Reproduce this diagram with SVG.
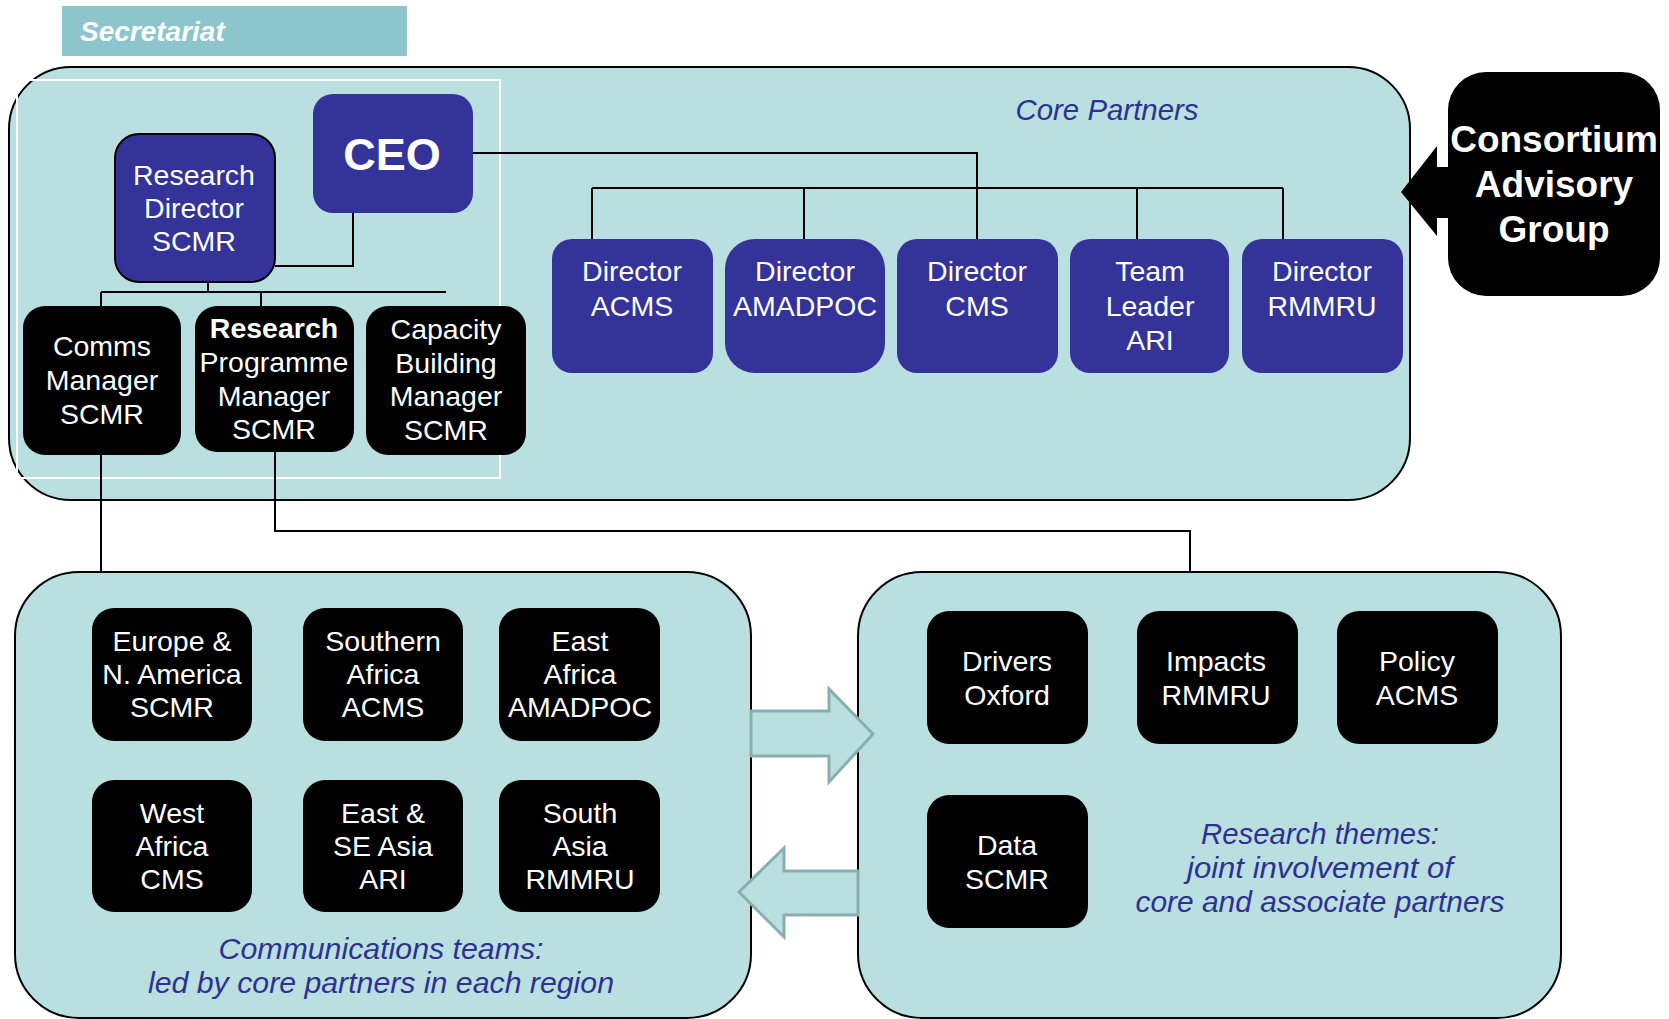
<svg xmlns="http://www.w3.org/2000/svg" width="1669" height="1019" viewBox="0 0 1669 1019">
<defs>
<style>
.panel{fill:#B9DFE1;stroke:#000;stroke-width:2}
.blue{fill:#333399}
.blk{fill:#000}
.wt{fill:#fff;font-family:"Liberation Sans",Arial,sans-serif;font-size:28.5px;text-anchor:middle}
.bd{font-weight:bold}
.it{fill:#2E3192;font-family:"Liberation Sans",Arial,sans-serif;font-size:29px;font-style:italic;text-anchor:middle}
.ln{fill:none;stroke:#000;stroke-width:2}
.arr{fill:#B9DFE1;stroke:#8AAEB0;stroke-width:3}
</style>
</defs>
<rect width="1669" height="1019" fill="#fff"/>
<g id="secretariat-banner">
<rect x="62" y="6" width="345" height="50" fill="#8DC5CD"/>
<text x="80" y="41" style="fill:#fff;font-family:'Liberation Sans',Arial,sans-serif;font-size:28px;font-weight:bold;font-style:italic">Secretariat</text>
</g>
<g id="core-partners">
<rect class="panel" x="9" y="67" width="1401" height="433" rx="62"/>
<rect x="17" y="80" width="483" height="398" fill="none" stroke="#fff" stroke-width="2"/>
<text class="it" x="1107" y="120" textLength="183" lengthAdjust="spacingAndGlyphs">Core Partners</text>
</g>
<g id="comms-panel">
<rect class="panel" x="15" y="572" width="736" height="446" rx="64"/>
<text class="it" x="381" y="959" textLength="325" lengthAdjust="spacingAndGlyphs">Communications teams:</text>
<text class="it" x="381" y="993" textLength="466" lengthAdjust="spacingAndGlyphs">led by core partners in each region</text>
</g>
<g id="research-panel">
<rect class="panel" x="858" y="572" width="703" height="446" rx="64"/>
<text class="it" x="1320" y="844" textLength="238" lengthAdjust="spacingAndGlyphs">Research themes:</text>
<text class="it" x="1320" y="878" textLength="266" lengthAdjust="spacingAndGlyphs">joint involvement of</text>
<text class="it" x="1320" y="912" textLength="369" lengthAdjust="spacingAndGlyphs">core and associate partners</text>
</g>
<g id="connectors">
<polyline class="ln" points="353,213 353,266 275,266"/>
<polyline class="ln" points="208,282 208,292"/>
<line class="ln" x1="101" y1="292" x2="446" y2="292"/>
<line class="ln" x1="101" y1="292" x2="101" y2="306"/>
<line class="ln" x1="261" y1="292" x2="261" y2="306"/>
<polyline class="ln" points="473,153 977,153 977,239"/>
<line class="ln" x1="592" y1="188" x2="1283" y2="188"/>
<line class="ln" x1="592" y1="188" x2="592" y2="252"/>
<line class="ln" x1="804" y1="188" x2="804" y2="239"/>
<line class="ln" x1="1137" y1="188" x2="1137" y2="239"/>
<line class="ln" x1="1283" y1="188" x2="1283" y2="239"/>
<line class="ln" x1="101" y1="455" x2="101" y2="572"/>
<polyline class="ln" points="275,452 275,531 1190,531 1190,572"/>
<path class="arr" d="M751,711 L829,711 L829,689 L873,734 L829,782 L829,756 L751,756 Z"/>
<path class="arr" d="M858,871 L784,871 L784,848 L739,892 L784,937 L784,915 L858,915 Z"/>
<path fill="#000" d="M1449,167 L1437,167 L1437,146 L1401,192 L1437,236 L1437,218 L1449,218 Z"/>
</g>
<g id="ceo">
<rect class="blue" x="313" y="94" width="160" height="119" rx="20"/>
<text class="wt bd" x="392" y="170" style="font-size:45px">CEO</text>
</g>
<g id="research-director">
<rect class="blue" x="115" y="134" width="160" height="148" rx="24" stroke="#000" stroke-width="2"/>
<text class="wt" x="194" y="185">Research</text>
<text class="wt" x="194" y="218">Director</text>
<text class="wt" x="194" y="251">SCMR</text>
</g>
<g id="comms-manager">
<rect class="blk" x="23" y="306" width="158" height="149" rx="22"/>
<text class="wt" x="102" y="356">Comms</text>
<text class="wt" x="102" y="390">Manager</text>
<text class="wt" x="102" y="424">SCMR</text>
</g>
<g id="research-programme-manager">
<rect class="blk" x="195" y="306" width="159" height="146" rx="22"/>
<text class="wt bd" x="274" y="338">Research</text>
<text class="wt" x="274" y="372">Programme</text>
<text class="wt" x="274" y="406">Manager</text>
<text class="wt" x="274" y="439">SCMR</text>
</g>
<g id="capacity-building-manager">
<rect class="blk" x="366" y="306" width="160" height="149" rx="22"/>
<text class="wt" x="446" y="339">Capacity</text>
<text class="wt" x="446" y="373">Building</text>
<text class="wt" x="446" y="406">Manager</text>
<text class="wt" x="446" y="440">SCMR</text>
</g>
<g id="director-acms">
<rect class="blue" x="552" y="239" width="161" height="134" rx="20"/>
<text class="wt" x="632" y="281">Director</text>
<text class="wt" x="632" y="316">ACMS</text>
</g>
<g id="director-amadpoc">
<rect class="blue" x="725" y="239" width="160" height="134" rx="30"/>
<text class="wt" x="805" y="281">Director</text>
<text class="wt" x="805" y="316">AMADPOC</text>
</g>
<g id="director-cms">
<rect class="blue" x="897" y="239" width="161" height="134" rx="20"/>
<text class="wt" x="977" y="281">Director</text>
<text class="wt" x="977" y="316">CMS</text>
</g>
<g id="team-leader-ari">
<rect class="blue" x="1070" y="239" width="159" height="134" rx="20"/>
<text class="wt" x="1150" y="281">Team</text>
<text class="wt" x="1150" y="316">Leader</text>
<text class="wt" x="1150" y="350">ARI</text>
</g>
<g id="director-rmmru">
<rect class="blue" x="1242" y="239" width="161" height="134" rx="20"/>
<text class="wt" x="1322" y="281">Director</text>
<text class="wt" x="1322" y="316">RMMRU</text>
</g>
<g id="consortium-advisory-group">
<rect class="blk" x="1448" y="72" width="212" height="224" rx="38"/>
<text class="wt bd" x="1554" y="152" style="font-size:37px">Consortium</text>
<text class="wt bd" x="1554" y="197" style="font-size:37px">Advisory</text>
<text class="wt bd" x="1554" y="242" style="font-size:37px">Group</text>
</g>
<g id="europe-na">
<rect class="blk" x="92" y="608" width="160" height="133" rx="22"/>
<text class="wt" x="172" y="651">Europe &amp;</text>
<text class="wt" x="172" y="684">N. America</text>
<text class="wt" x="172" y="717">SCMR</text>
</g>
<g id="southern-africa">
<rect class="blk" x="303" y="608" width="160" height="133" rx="22"/>
<text class="wt" x="383" y="651">Southern</text>
<text class="wt" x="383" y="684">Africa</text>
<text class="wt" x="383" y="717">ACMS</text>
</g>
<g id="east-africa">
<rect class="blk" x="499" y="608" width="161" height="133" rx="22"/>
<text class="wt" x="580" y="651">East</text>
<text class="wt" x="580" y="684">Africa</text>
<text class="wt" x="580" y="717">AMADPOC</text>
</g>
<g id="west-africa">
<rect class="blk" x="92" y="780" width="160" height="132" rx="22"/>
<text class="wt" x="172" y="823">West</text>
<text class="wt" x="172" y="856">Africa</text>
<text class="wt" x="172" y="889">CMS</text>
</g>
<g id="east-se-asia">
<rect class="blk" x="303" y="780" width="160" height="132" rx="22"/>
<text class="wt" x="383" y="823">East &amp;</text>
<text class="wt" x="383" y="856">SE Asia</text>
<text class="wt" x="383" y="889">ARI</text>
</g>
<g id="south-asia">
<rect class="blk" x="499" y="780" width="161" height="132" rx="22"/>
<text class="wt" x="580" y="823">South</text>
<text class="wt" x="580" y="856">Asia</text>
<text class="wt" x="580" y="889">RMMRU</text>
</g>
<g id="drivers">
<rect class="blk" x="927" y="611" width="161" height="133" rx="22"/>
<text class="wt" x="1007" y="671">Drivers</text>
<text class="wt" x="1007" y="705">Oxford</text>
</g>
<g id="impacts">
<rect class="blk" x="1137" y="611" width="161" height="133" rx="22"/>
<text class="wt" x="1216" y="671">Impacts</text>
<text class="wt" x="1216" y="705">RMMRU</text>
</g>
<g id="policy">
<rect class="blk" x="1337" y="611" width="161" height="133" rx="22"/>
<text class="wt" x="1417" y="671">Policy</text>
<text class="wt" x="1417" y="705">ACMS</text>
</g>
<g id="data">
<rect class="blk" x="927" y="795" width="161" height="133" rx="22"/>
<text class="wt" x="1007" y="855">Data</text>
<text class="wt" x="1007" y="889">SCMR</text>
</g>
</svg>
